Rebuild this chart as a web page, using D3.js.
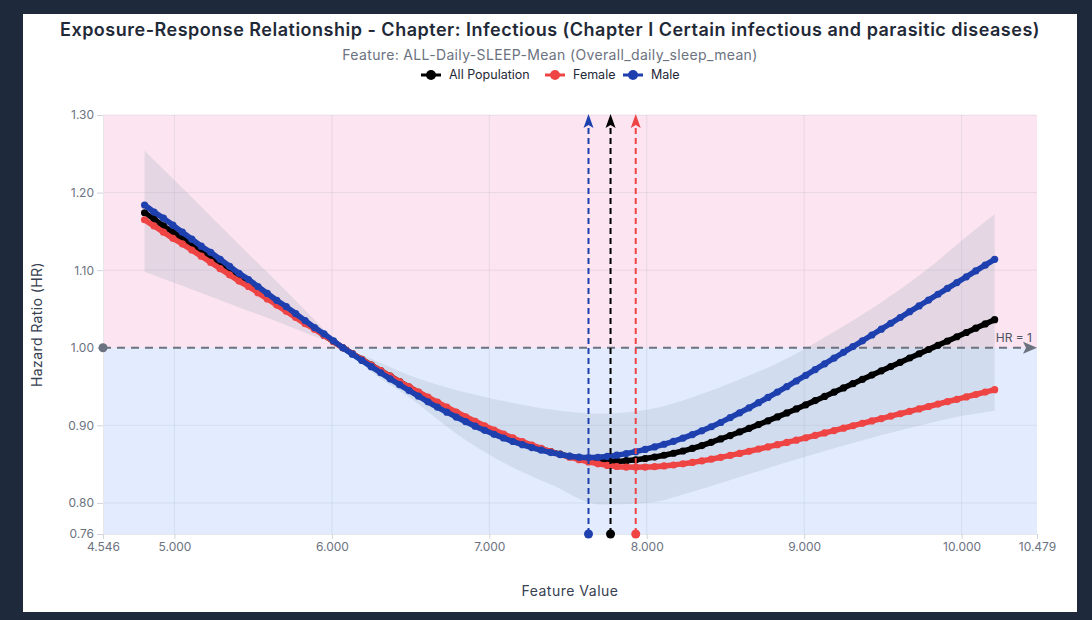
<!DOCTYPE html>
<html>
<head>
<meta charset="utf-8">
<script src="https://cdn.jsdelivr.net/npm/d3@7"></script>
<style>
html, body { margin: 0; padding: 0; background: #1e293b; }
svg { display: block; font-family: Inter, "Noto Sans", sans-serif; }
</style>
</head>
<body>
<svg id="chart" width="1092" height="620"></svg>
<script>
// ---- data ----
var xs = [4.81, 4.87, 4.93, 4.99, 5.05, 5.11, 5.17, 5.23, 5.29, 5.35, 5.41, 5.47, 5.53, 5.59, 5.65, 5.71, 5.77, 5.83, 5.89, 5.95, 6.01, 6.07,
  6.13, 6.19, 6.25, 6.31, 6.37, 6.43, 6.49, 6.55, 6.61, 6.67, 6.73, 6.79, 6.85, 6.91, 6.97, 7.03, 7.09, 7.15, 7.21, 7.27,
  7.33, 7.39, 7.45, 7.51, 7.57, 7.63, 7.69, 7.75, 7.81, 7.87, 7.93,
  7.99, 8.05, 8.11, 8.17, 8.23, 8.29, 8.35,
  8.41, 8.47, 8.53, 8.59, 8.65, 8.71, 8.77, 8.83, 8.89, 8.95, 9.01, 9.07, 9.13, 9.19, 9.25, 9.31, 9.37, 9.43, 9.49, 9.55,
  9.61, 9.67, 9.73, 9.79, 9.85, 9.91, 9.97, 10.03, 10.09, 10.15, 10.21];

var allHR = [1.174, 1.166, 1.157, 1.149, 1.141, 1.133, 1.124, 1.116, 1.108, 1.099, 1.091, 1.083, 1.075, 1.066, 1.058, 1.050, 1.041, 1.033, 1.025, 1.016, 1.008, 1.000,
  0.9925, 0.9850, 0.9777, 0.9705, 0.9634, 0.9563, 0.9493, 0.9424, 0.9356, 0.9289, 0.9224, 0.9160, 0.9098, 0.9038, 0.8980, 0.8925, 0.8873, 0.8824, 0.8779, 0.8737,
  0.8698, 0.8662, 0.8630, 0.8601, 0.8576, 0.8555, 0.8542, 0.8537, 0.8538, 0.8545, 0.8557,
  0.8573, 0.8592, 0.8615, 0.8641, 0.8670, 0.8703, 0.8739,
  0.8782, 0.8825, 0.8869, 0.8915, 0.8962, 0.9010, 0.9059, 0.9109, 0.9160, 0.9212, 0.9265, 0.9319, 0.9373, 0.9428, 0.9483, 0.9538, 0.9593, 0.9648, 0.9703, 0.9758,
  0.9813, 0.9868, 0.9923, 0.9978, 1.0032, 1.0087, 1.0142, 1.0197, 1.0252, 1.0307, 1.0362];

var femaleHR = [1.165, 1.157, 1.149, 1.141, 1.134, 1.126, 1.118, 1.110, 1.102, 1.094, 1.086, 1.079, 1.071, 1.063, 1.055, 1.047, 1.039, 1.031, 1.024, 1.016, 1.008, 1.000,
  0.9925, 0.9851, 0.9778, 0.9706, 0.9635, 0.9565, 0.9497, 0.9430, 0.9364, 0.9299, 0.9235, 0.9172, 0.9111, 0.9052, 0.8995, 0.8940, 0.8888, 0.8838, 0.8791, 0.8746,
  0.8703, 0.8663, 0.8625, 0.8590, 0.8558, 0.8529, 0.8504, 0.8484, 0.8470, 0.8462, 0.8460,
  0.8462, 0.8468, 0.8477, 0.8489, 0.8504, 0.8522, 0.8542,
  0.8564, 0.8588, 0.8613, 0.8639, 0.8666, 0.8694, 0.8722, 0.8751, 0.8780, 0.8809, 0.8840, 0.8871, 0.8902, 0.8933, 0.8964, 0.8995, 0.9026, 0.9057, 0.9088, 0.9119,
  0.9150, 0.9181, 0.9212, 0.9243, 0.9274, 0.9305, 0.9336, 0.9367, 0.9398, 0.9429, 0.9460];

var maleHR = [1.184, 1.175, 1.167, 1.158, 1.149, 1.140, 1.131, 1.123, 1.114, 1.105, 1.096, 1.088, 1.079, 1.070, 1.061, 1.053, 1.044, 1.035, 1.026, 1.018, 1.009, 1.000,
  0.9918, 0.9837, 0.9757, 0.9678, 0.9600, 0.9524, 0.9449, 0.9376, 0.9304, 0.9236, 0.9170, 0.9107, 0.9047, 0.8990, 0.8936, 0.8885, 0.8837, 0.8792, 0.8751, 0.8714,
  0.8680, 0.8650, 0.8624, 0.8603, 0.8590, 0.8585, 0.8588, 0.8600, 0.8616, 0.8636, 0.8661,
  0.8690, 0.8722, 0.8757, 0.8795, 0.8836, 0.8881, 0.8930,
  0.8982, 0.9037, 0.9100, 0.9162, 0.9226, 0.9292, 0.9360, 0.9429, 0.9500, 0.9572, 0.9645, 0.9719, 0.9793, 0.9867, 0.9941, 1.0015, 1.0090, 1.0165, 1.0240, 1.0315,
  1.0390, 1.0465, 1.0540, 1.0615, 1.0690, 1.0765, 1.0840, 1.0915, 1.0990, 1.1065, 1.1140];

// confidence band (All Population)
var bandX  = [4.81, 5.1, 5.4, 5.7, 5.9, 6.07, 6.25, 6.5, 6.8, 7.1, 7.4, 7.7, 8.0, 8.3, 8.6, 8.9, 9.2, 9.5, 9.8, 10.0, 10.21];
var bandHi = [1.254, 1.196, 1.135, 1.075, 1.034, 1.000, 0.986, 0.964, 0.945, 0.931, 0.920, 0.915, 0.920, 0.937, 0.960, 0.987, 1.022, 1.060, 1.104, 1.138, 1.172];
var bandLo = [1.098, 1.076, 1.053, 1.030, 1.014, 1.000, 0.969, 0.935, 0.888, 0.851, 0.823, 0.798, 0.800, 0.815, 0.834, 0.853, 0.871, 0.888, 0.903, 0.912, 0.919];

var seriesNames  = ["All Population", "Female", "Male"];
var seriesColors = ["#000000", "#ef4444", "#1e40af"];
var nadirs = [7.77, 7.93, 7.63];   // minimum-HR feature value per series

var xTicks = [4.546, 5, 6, 7, 8, 9, 10, 10.479];
var yTicks = [0.76, 0.8, 0.9, 1.0, 1.1, 1.2, 1.3];

var titleText = "Exposure-Response Relationship - Chapter: Infectious (Chapter I Certain infectious and parasitic diseases)";
var subtitleText = "Feature: ALL-Daily-SLEEP-Mean (Overall_daily_sleep_mean)";

// ---- drawing ----
var svg = d3.select("#chart");

svg.append("rect")
    .attr("x", 23).attr("y", 14)
    .attr("width", 1054).attr("height", 598)
    .attr("fill", "#ffffff");

var x = d3.scaleLinear().domain([4.546, 10.479]).range([103, 1037]);
var y = d3.scaleLinear().domain([0.76, 1.30]).range([534, 115]);

// risk / protective zones
svg.append("rect")
    .attr("x", x(4.546)).attr("y", y(1.30))
    .attr("width", x(10.479) - x(4.546)).attr("height", y(1.0) - y(1.30))
    .attr("fill", "rgba(236,72,153,0.15)");
svg.append("rect")
    .attr("x", x(4.546)).attr("y", y(1.0))
    .attr("width", x(10.479) - x(4.546)).attr("height", y(0.76) - y(1.0))
    .attr("fill", "rgba(59,130,246,0.15)");

// grid
svg.append("g").selectAll("line")
    .data([5, 6, 7, 8, 9, 10])
    .enter().append("line")
      .attr("x1", function(d) { return x(d); }).attr("x2", function(d) { return x(d); })
      .attr("y1", y(1.30)).attr("y2", y(0.76))
      .attr("stroke", "rgba(148,163,184,0.18)").attr("stroke-width", 1);
svg.append("g").selectAll("line")
    .data([0.8, 0.9, 1.1, 1.2, 1.3])
    .enter().append("line")
      .attr("x1", x(4.546)).attr("x2", x(10.479))
      .attr("y1", function(d) { return y(d); }).attr("y2", function(d) { return y(d); })
      .attr("stroke", "rgba(148,163,184,0.18)").attr("stroke-width", 1);

// axes
var xAxis = svg.append("g")
    .attr("transform", "translate(0," + y(0.76) + ")")
    .call(d3.axisBottom(x).tickValues(xTicks).tickFormat(d3.format(".3f")).tickSize(5).tickSizeOuter(0));
var yAxis = svg.append("g")
    .attr("transform", "translate(" + x(4.546) + ",0)")
    .call(d3.axisLeft(y).tickValues(yTicks).tickFormat(d3.format(".2f")).tickSize(6).tickSizeOuter(0));
[xAxis, yAxis].forEach(function(a) {
  a.select(".domain").attr("stroke", "#e5e7eb");
  a.selectAll(".tick line").attr("stroke", "#d1d5db");
  a.selectAll(".tick text")
      .attr("fill", "#6b7280")
      .attr("font-size", 12)
      .attr("font-family", "Inter, 'Noto Sans', sans-serif");
});

// confidence band
var band = bandX.map(function(d, i) { return {x: d, lo: bandLo[i], hi: bandHi[i]}; });
svg.append("path")
    .datum(band)
    .attr("fill", "#94a3b8")
    .attr("fill-opacity", 0.22)
    .attr("d", d3.area()
      .x(function(d) { return x(d.x); })
      .y0(function(d) { return y(d.lo); })
      .y1(function(d) { return y(d.hi); })
      .curve(d3.curveMonotoneX));

// HR = 1 reference line
svg.append("line")
    .attr("x1", x(4.546)).attr("x2", x(10.479) - 8)
    .attr("y1", y(1.0)).attr("y2", y(1.0))
    .attr("stroke", "#6b7280").attr("stroke-width", 2)
    .attr("stroke-dasharray", "8,6");
svg.append("path")
    .attr("d", "M" + x(10.479) + "," + y(1.0) + " l-14,-6 l3,6 l-3,6 Z")
    .attr("fill", "#6b7280");
svg.append("circle")
    .attr("cx", x(4.546)).attr("cy", y(1.0)).attr("r", 4.5)
    .attr("fill", "#6b7280");
svg.append("text")
    .attr("x", x(10.479) - 5).attr("y", y(1.0) - 6)
    .attr("text-anchor", "end")
    .attr("font-size", 12)
    .attr("fill", "#4b5563")
    .text("HR = 1");

// curves
var allSeries = [allHR, femaleHR, maleHR];
var line = d3.line()
    .x(function(d) { return x(d.x); })
    .y(function(d) { return y(d.hr); })
    .curve(d3.curveMonotoneX);

allSeries.forEach(function(vals, k) {
  var pts = xs.map(function(d, i) { return {x: d, hr: vals[i]}; });
  var g = svg.append("g");
  g.append("path")
      .datum(pts)
      .attr("fill", "none")
      .attr("stroke", seriesColors[k])
      .attr("stroke-width", 5.5)
      .attr("d", line);
  g.selectAll("circle")
      .data(pts)
      .enter().append("circle")
        .attr("cx", function(d) { return x(d.x); })
        .attr("cy", function(d) { return y(d.hr); })
        .attr("r", 3.6)
        .attr("fill", seriesColors[k]);
});

// nadir markers
nadirs.forEach(function(v, k) {
  var cx = x(v), top = y(1.30);
  svg.append("line")
      .attr("x1", cx).attr("x2", cx)
      .attr("y1", y(0.76)).attr("y2", top + 11)
      .attr("stroke", seriesColors[k]).attr("stroke-width", 2)
      .attr("stroke-dasharray", "6,4");
  svg.append("path")
      .attr("d", "M" + cx + "," + (top - 1) + " l-5,14 l5,-3 l5,3 Z")
      .attr("fill", seriesColors[k]);
  svg.append("circle")
      .attr("cx", cx).attr("cy", y(0.76)).attr("r", 4.5)
      .attr("fill", seriesColors[k]);
});

// titles
svg.append("text")
    .attr("x", 550).attr("y", 36)
    .attr("text-anchor", "middle")
    .attr("font-size", 18).attr("font-weight", 600)
    .attr("letter-spacing", 0.5)
    .attr("fill", "#1f2937")
    .text(titleText);
svg.append("text")
    .attr("x", 550).attr("y", 60)
    .attr("text-anchor", "middle")
    .attr("font-size", 14)
    .attr("letter-spacing", 0.35)
    .attr("fill", "#6b7280")
    .text(subtitleText);

svg.append("text")
    .attr("transform", "translate(42," + ((y(1.30) + y(0.76)) / 2) + ") rotate(-90)")
    .attr("text-anchor", "middle")
    .attr("font-size", 14)
    .attr("letter-spacing", 0.4)
    .attr("fill", "#374151")
    .text("Hazard Ratio (HR)");
svg.append("text")
    .attr("x", (x(4.546) + x(10.479)) / 2).attr("y", 596)
    .attr("text-anchor", "middle")
    .attr("font-size", 14)
    .attr("letter-spacing", 0.5)
    .attr("fill", "#374151")
    .text("Feature Value");

// legend
var legendX = [421, 545, 623];
var legend = svg.append("g").selectAll("g")
    .data(seriesNames)
    .enter().append("g")
      .attr("transform", function(d, i) { return "translate(" + legendX[i] + ",75)"; });
legend.append("line")
    .attr("x1", 0).attr("x2", 20)
    .attr("stroke", function(d, i) { return seriesColors[i]; })
    .attr("stroke-width", 3);
legend.append("circle")
    .attr("cx", 10).attr("r", 5)
    .attr("fill", function(d, i) { return seriesColors[i]; });
legend.append("text")
    .attr("x", 28).attr("dy", "0.35em")
    .attr("font-size", 12.5)
    .attr("fill", "#1f2937")
    .text(function(d) { return d; });
</script>
</body>
</html>
